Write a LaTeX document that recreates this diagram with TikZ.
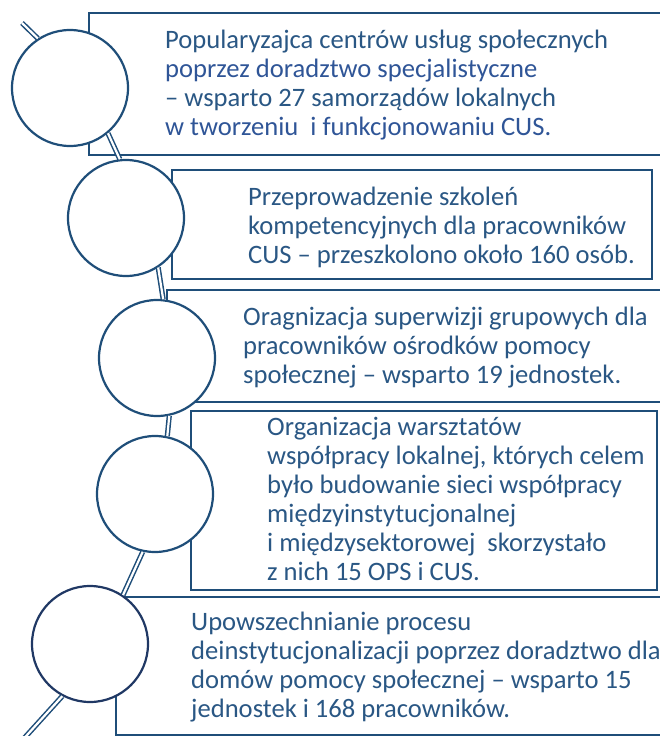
\documentclass[tikz,border=0pt]{standalone}
\usepackage{fontspec}
\setmainfont{Carlito}
\usetikzlibrary{calc}
\definecolor{granat}{HTML}{1F4E79}
\definecolor{granatc}{HTML}{203864}
\definecolor{tekst}{HTML}{2A5784}
\definecolor{tekstj}{HTML}{2F5597}
\tikzset{
  ramka/.style={draw=granat,line width=2pt},
  kolko/.style={circle,draw=granat,fill=white,line width=2.2pt,minimum size=116pt,inner sep=0pt},
  nitka/.style={draw=granat,double=white,double distance=2.2pt,line width=1.5pt},
  opis/.style={anchor=base west,inner sep=0pt,align=left,text=tekst,font=\fontsize{26.6}{29}\selectfont},
}

\begin{document}
\begin{tikzpicture}[x=1pt,y=-1pt]
  \useasboundingbox (0,0) rectangle (660,736);
  % ramki
  \draw[ramka,line width=2.6pt] (670,13) -- (89,13) -- (89,155) -- (670,155);
  \draw[ramka] (172,170) rectangle (652,279);
  \draw[ramka] (670,290) -- (167,290) -- (167,402) -- (670,402);
  \draw[ramka] (191,411) rectangle (657,590);
  \draw[ramka] (670,597) -- (116,597) -- (116,735) -- (670,735);
  % kola
  \node[kolko] (k1) at (70,88) {};
  \node[kolko] (k2) at (126,218) {};
  \node[kolko] (k3) at (157,358) {};
  \node[kolko] (k4) at (155,494) {};
  \node[kolko,draw=granatc] (k5) at (90,644) {};
  \coordinate (pocz) at (22,23);
  \coordinate (kon) at (18,745);
  % os czasu
  \draw[nitka] (pocz) -- (k1.123);
  \draw[nitka] (k1.-50) -- (k2.96);
  \draw[nitka] (k2.-57) -- (k3.84);
  \draw[nitka] (k3.-78) -- (k4.78);
  \draw[nitka] (k4.-102) -- (k5.56);
  \draw[nitka] (k5.-118) -- (kon);
  % opisy (kotwica: linia bazowa ostatniego wiersza)
  \node[opis] (o1) at (165,135) {Popularyzajca centrów usług społecznych\\
    \textcolor{tekstj}{poprzez doradztwo specjalistyczne}\\
    – wsparto 27 samorządów lokalnych\\
    \textcolor{tekstj}{w tworzeniu\ \ i funkcjonowaniu CUS.}};
  \node[opis] (o2) at (248,263) {Przeprowadzenie szkoleń\\
    kompetencyjnych dla pracowników\\
    CUS – przeszkolono około 160 osób.};
  \node[opis] (o3) at (243,383) {Oragnizacja superwizji grupowych dla\\
    pracowników ośrodków pomocy\\
    społecznej – wsparto 19 jednostek.};
  \node[opis] (o4) at (267,580) {Organizacja warsztatów\\
    współpracy lokalnej, których celem\\
    było budowanie sieci współpracy\\
    międzyinstytucjonalnej\\
    i międzysektorowej\ \ skorzystało\\
    z nich 15 OPS i CUS.};
  \node[opis] (o5) at (191,717) {Upowszechnianie procesu\\
    deinstytucjonalizacji poprzez doradztwo dla\\
    domów pomocy społecznej – wsparto 15\\
    jednostek i 168 pracowników.};
\end{tikzpicture}
\end{document}
